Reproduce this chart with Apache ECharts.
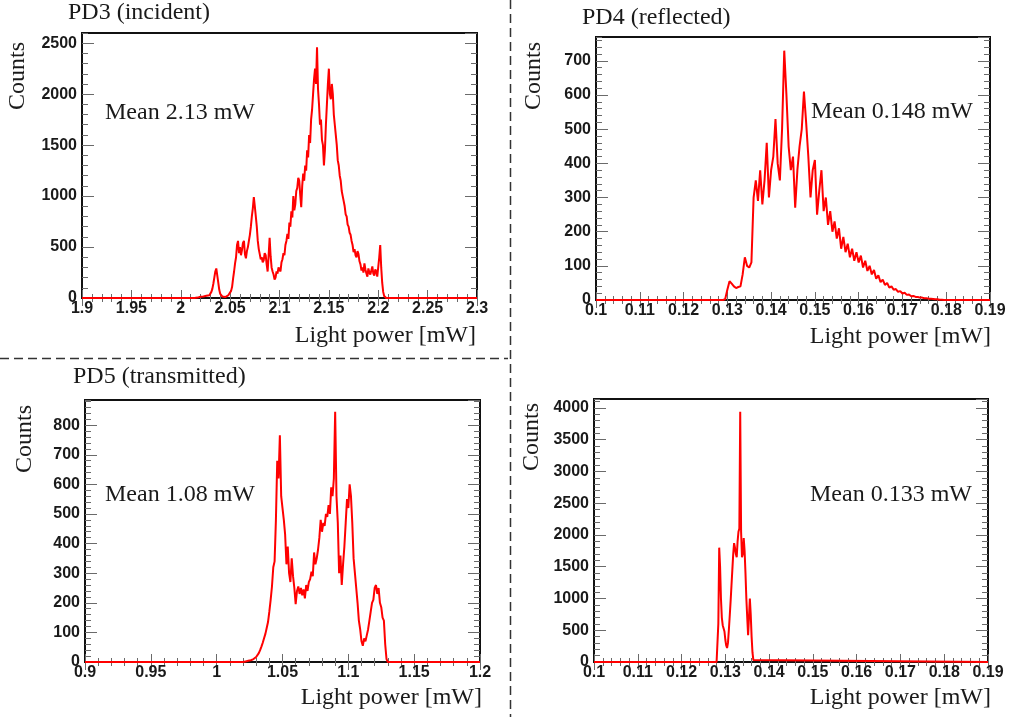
<!DOCTYPE html>
<html><head><meta charset="utf-8">
<script src="https://cdn.jsdelivr.net/npm/echarts@6/dist/echarts.min.js"></script>
<style>html,body{margin:0;padding:0;background:#fff}#c{width:1011px;height:717px}</style>
</head><body><div id="c"></div>
<script>
// ---------------- DATA ----------------
// PD3 (incident)
const pd3Title = 'PD3 (incident)';
const pd3Mean = 'Mean 2.13 mW';
const pd3XRange = [1.9, 2.3];
const pd3YRange = [0, 2600];
const pd3XTicks = [0.05, 0.01];   // major, minor
const pd3YTicks = [500, 100];
const pd3BinStart = 2.014, pd3BinWidth = 0.001;
const pd3Counts = [
  0, 1, 2, 4, 5, 9, 12, 18, 20, 14,
  15, 24, 22, 16, 18, 28, 40, 60, 90, 140,
  200, 260, 290, 220, 150, 80, 40, 22, 15, 12,
  10, 9, 12, 16, 25, 32, 40, 70, 110, 190,
  260, 340, 400, 520, 560, 440, 500, 420, 470, 540,
  560, 430, 390, 460, 500, 560, 620, 700, 800, 880,
  990, 900, 800, 700, 560, 480, 430, 380, 400, 350,
  370, 440, 420, 330, 260, 420, 590, 410, 300, 260,
  230, 180, 200, 260, 240, 300, 290, 260, 350, 380,
  440, 420, 520, 560, 630, 580, 740, 700, 850, 790,
  1000, 860, 920, 1050, 1080, 1180, 1150, 1010, 890, 1100,
  1220, 1150, 1300, 1250, 1450, 1380, 1600, 1520, 1750, 1850,
  2000, 2150, 2250, 2100, 2460, 2050, 1900, 1700, 1750, 1550,
  1500, 1300, 1450, 1700, 1900, 2100, 2250, 2000, 1950, 2100,
  2000, 1800, 1700, 1600, 1500, 1350, 1300, 1200, 1150, 1050,
  1000, 950, 900, 820, 800, 720, 700, 640, 620, 560,
  520, 450, 480, 420, 400, 460, 430, 360, 330, 270,
  300, 250, 340, 280, 240, 210, 290, 250, 230, 270,
  310, 240, 220, 280, 260, 210, 200, 400, 520, 300,
  150, 60, 20, 5, 0
];

// PD4 (reflected)
const pd4Title = 'PD4 (reflected)';
const pd4Mean = 'Mean 0.148 mW';
const pd4XRange = [0.1, 0.19];
const pd4YRange = [0, 770];
const pd4XTicks = [0.01, 0.002];
const pd4YTicks = [100, 20];
const pd4BinStart = 0.1290, pd4BinWidth = 0.0005;
const pd4Counts = [
  0, 2, 30, 55, 48, 40, 35, 38, 40, 75, 125, 100, 95, 110, 300, 350, 290, 380,
  280, 350, 460, 300, 380, 420, 530, 400, 350, 500, 730, 600, 450, 380, 420, 270,
  380, 450, 500, 610, 520, 420, 300, 380, 410, 250, 320, 380, 260, 300, 220, 260,
  200, 230, 180, 210, 150, 185, 140, 165, 125, 150, 115, 140, 110, 130, 95, 115,
  85, 100, 75, 88, 62, 72, 52, 60, 44, 50, 36, 40, 30, 32, 24, 26, 19, 21, 15, 16,
  11, 12, 9, 9, 7, 7, 5, 5, 4, 4, 3, 2, 2, 1, 1, 0
];

// PD5 (transmitted)
const pd5Title = 'PD5 (transmitted)';
const pd5Mean = 'Mean 1.08 mW';
const pd5XRange = [0.9, 1.2];
const pd5YRange = [0, 885];
const pd5XTicks = [0.05, 0.01];
const pd5YTicks = [100, 20];
const pd5BinStart = 1.020, pd5BinWidth = 0.001;
const pd5Counts = [
  0, 1, 2, 3, 4, 5, 6, 8, 10, 13, 17, 22, 30, 40, 52, 65, 80, 95, 115, 135,
  170, 210, 255, 320, 340, 480, 680, 620, 766, 560, 520, 480, 430, 330, 390, 300,
  270, 350, 290, 250, 195, 240, 255, 230, 250, 225, 245, 215, 260, 240, 270, 280,
  305, 290, 370, 330, 350, 380, 420, 480, 440, 470, 460, 500, 490, 530, 500, 590,
  560, 620, 845, 560, 470, 300, 360, 260, 330, 390, 470, 550, 520, 600, 560, 470,
  350, 300, 250, 200, 140, 110, 70, 55, 80, 70, 90, 110, 140, 170, 200, 210, 250,
  260, 230, 250, 200, 185, 150, 140, 60, 10, 0
];

// fourth panel (no title)
const pd6Title = '';
const pd6Mean = 'Mean 0.133 mW';
const pd6XRange = [0.1, 0.19];
const pd6YRange = [0, 4140];
const pd6XTicks = [0.01, 0.002];
const pd6YTicks = [500, 100];
const pd6BinStart = 0.1280, pd6BinWidth = 0.0002;
const pd6Counts = [
  0, 10, 600, 1800, 1500, 1000, 700, 580, 560, 480, 350, 260, 220, 300, 500, 720,
  950, 1200, 1450, 1700, 1870, 1800, 1700, 1650, 1900, 2050, 2100, 3940, 2050, 1650,
  1700, 1950, 1750, 1400, 1000, 700, 420, 700, 1000, 750, 400, 150, 30, 0
];

const axisTitleX = 'Light power [mW]';
const axisTitleY = 'Counts';

// ---------------- LAYOUT ----------------
const panels = [
  {title: pd3Title, mean: pd3Mean, xr: pd3XRange, yr: pd3YRange, xt: pd3XTicks, yt: pd3YTicks, start: pd3BinStart, w: pd3BinWidth, counts: pd3Counts,
   grid: {left: 82, top: 33, width: 395, height: 265}, titlePos: [68, 13], meanPos: [105, 113], countsPos: [18, 42], xTitlePos: [476, 336]},
  {title: pd4Title, mean: pd4Mean, xr: pd4XRange, yr: pd4YRange, xt: pd4XTicks, yt: pd4YTicks, start: pd4BinStart, w: pd4BinWidth, counts: pd4Counts,
   grid: {left: 596, top: 37, width: 394, height: 263}, titlePos: [582, 18], meanPos: [811, 112], countsPos: [534, 42], xTitlePos: [991, 337]},
  {title: pd5Title, mean: pd5Mean, xr: pd5XRange, yr: pd5YRange, xt: pd5XTicks, yt: pd5YTicks, start: pd5BinStart, w: pd5BinWidth, counts: pd5Counts,
   grid: {left: 85, top: 400, width: 395, height: 262}, titlePos: [73, 377], meanPos: [105, 495], countsPos: [25, 405], xTitlePos: [482, 698]},
  {title: pd6Title, mean: pd6Mean, xr: pd6XRange, yr: pd6YRange, xt: pd6XTicks, yt: pd6YTicks, start: pd6BinStart, w: pd6BinWidth, counts: pd6Counts,
   grid: {left: 594, top: 399, width: 394, height: 263}, titlePos: [580, 377], meanPos: [810, 495], countsPos: [532, 403], xTitlePos: [991, 698]}
];

const SERIF = '"Liberation Serif", "Times New Roman", serif';
const SANS = '"Liberation Sans", Arial, sans-serif';
const TXT = '#1a1a1a';
const TICK = '#6a6a6a';

const grids = [], xAxes = [], yAxes = [], series = [], graphic = [];

function isMultiple(v, step) {
  const r = v / step;
  return Math.abs(r - Math.round(r)) < 1e-6;
}

panels.forEach((p, i) => {
  grids.push(Object.assign({show: true, borderColor: '#111', borderWidth: 2, backgroundColor: 'transparent'}, p.grid));
  const mkX = (pos, interval, len, labels) => ({
    type: 'value', gridIndex: i, position: pos, min: p.xr[0], max: p.xr[1], interval: interval,
    axisLine: {show: false}, splitLine: {show: false},
    axisTick: {show: true, inside: true, length: len, lineStyle: {color: TICK, width: 1}},
    axisLabel: {show: labels, fontFamily: SANS, fontWeight: 'bold', fontSize: 16, color: TXT, margin: 3,
      formatter: v => isMultiple(v, p.xt[0]) ? String(+v.toFixed(4)) : ''}
  });
  const mkY = (pos, interval, len, labels) => ({
    type: 'value', gridIndex: i, position: pos, min: p.yr[0], max: p.yr[1], interval: interval,
    axisLine: {show: false}, splitLine: {show: false},
    axisTick: {show: true, inside: true, length: len, lineStyle: {color: TICK, width: 1}},
    axisLabel: {show: labels, fontFamily: SANS, fontWeight: 'bold', fontSize: 16, color: TXT, margin: 5,
      showMaxLabel: false,
      formatter: v => isMultiple(v, p.yt[0]) ? String(v) : ''}
  });
  xAxes.push(mkX('bottom', p.xt[0], 8, true), mkX('bottom', p.xt[1], 4, false), mkX('top', p.xt[0], 8, false), mkX('top', p.xt[1], 4, false));
  yAxes.push(mkY('left', p.yt[0], 12, true), mkY('left', p.yt[1], 6, false), mkY('right', p.yt[0], 12, false), mkY('right', p.yt[1], 6, false));

  const data = [[p.xr[0], 0]];
  p.counts.forEach((c, k) => data.push([+(p.start + k * p.w).toFixed(5), c]));
  data.push([p.xr[1], 0]);
  series.push({
    type: 'line', xAxisIndex: i * 4, yAxisIndex: i * 4, data: data,
    showSymbol: false, symbol: 'none', animation: false, clip: true,
    lineStyle: {color: '#ff0000', width: 2}, z: 5
  });

  if (p.title) {
    graphic.push({type: 'text', x: p.titlePos[0], y: p.titlePos[1],
      style: {text: p.title, font: '24px ' + SERIF, fill: TXT, align: 'left', verticalAlign: 'middle'}});
  }
  graphic.push({type: 'text', x: p.meanPos[0], y: p.meanPos[1],
    style: {text: p.mean, font: '24px ' + SERIF, fill: TXT, align: 'left', verticalAlign: 'middle'}});
  graphic.push({type: 'text', x: p.countsPos[0], y: p.countsPos[1], rotation: Math.PI / 2,
    style: {text: axisTitleY, font: '24px ' + SERIF, fill: TXT, align: 'right', verticalAlign: 'middle'}});
  graphic.push({type: 'text', x: p.xTitlePos[0], y: p.xTitlePos[1],
    style: {text: axisTitleX, font: '24px ' + SERIF, fill: TXT, align: 'right', verticalAlign: 'middle'}});
});

// dashed separators
graphic.push({type: 'line', shape: {x1: 510.5, y1: 0, x2: 510.5, y2: 717},
  style: {stroke: '#333', lineWidth: 1.5, lineDash: [9, 5]}});
graphic.push({type: 'line', shape: {x1: 0, y1: 358.5, x2: 508, y2: 358.5},
  style: {stroke: '#333', lineWidth: 1.5, lineDash: [9, 5]}});

const chart = echarts.init(document.getElementById('c'), null, {renderer: 'canvas'});
chart.setOption({
  backgroundColor: '#ffffff',
  animation: false,
  grid: grids,
  xAxis: xAxes,
  yAxis: yAxes,
  series: series,
  graphic: graphic
});
</script>
</body></html>
